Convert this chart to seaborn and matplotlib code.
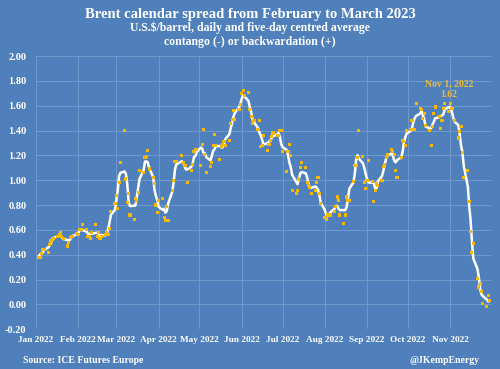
import pandas as pd
import numpy as np
import matplotlib
matplotlib.use('Agg')
import matplotlib.pyplot as plt
import seaborn as sns

# daily Brent Feb23/Mar23 spread, one list per month
jan = [0.38, 0.38, 0.41, 0.44, 0.44, 0.42, 0.48, 0.51, 0.53, 0.53, 0.55, 0.56, 0.58, 0.55, 0.53,
       0.47, 0.50, 0.54, 0.545, 0.545, 0.57]
feb = [0.56, 0.60, 0.60, 0.64, 0.60, 0.55, 0.545, 0.53, 0.58, 0.64, 0.55, 0.58, 0.53, 0.545,
       0.56, 0.58, 0.56, 0.61, 0.745, 0.81]
mar = [0.88, 0.77, 0.98, 1.14, 1.40, 1.01, 0.82, 0.89, 0.72, 0.68, 0.85, 0.83, 0.90, 1.08, 1.06,
       1.18, 1.19, 1.24, 1.09, 1.02, 0.97, 0.80, 0.74]
apr = [0.84, 0.85, 0.70, 0.675, 0.79, 0.675, 0.92, 1.00, 1.15, 1.15, 1.20, 1.14, 1.12, 1.12,
       0.98, 1.08, 1.13, 1.23, 1.25, 1.245]
may = [1.12, 1.29, 1.41, 1.21, 1.06, 1.11, 1.14, 1.28, 1.37, 1.28, 1.17, 1.27, 1.29, 1.31, 1.28,
       1.32, 1.46, 1.49, 1.56, 1.49, 1.57, 1.61]
jun = [1.70, 1.72, 1.68, 1.71, 1.57, 1.51, 1.46, 1.48, 1.41, 1.48, 1.27, 1.28, 1.36, 1.24, 1.29,
       1.32, 1.35, 1.38, 1.36, 1.36, 1.40, 1.40]
jul = [1.23, 1.07, 1.23, 1.29, 1.20, 0.92, 0.89, 0.92, 1.01, 1.10, 1.14, 1.10, 0.98, 0.96, 0.94,
       0.89, 0.92, 0.98, 1.02, 0.89, 0.81]
aug = [0.70, 0.68, 0.72, 0.72, 0.72, 0.75, 0.79, 0.865, 0.84, 0.72, 0.65, 0.72, 0.865, 0.84,
       0.84, 0.99, 1.12, 1.12, 1.18, 1.40, 1.19, 0.98, 0.93]
sep = [1.00, 1.16, 0.99, 0.83, 0.92, 0.97, 0.96, 1.00, 1.11, 1.13, 1.18, 1.21, 1.245, 1.23,
       1.21, 1.08, 1.02, 1.18, 1.32, 1.31, 1.28, 1.40]
oct = [1.41, 1.48, 1.41, 1.41, 1.62, 1.58, 1.57, 1.50, 1.54, 1.44, 1.40, 1.28, 1.43, 1.54, 1.59,
       1.51, 1.42, 1.48, 1.58, 1.62, 1.55]
nov = [1.62, 1.58, 1.58, 1.48, 1.34, 1.39, 1.43, 1.22, 1.02, 1.08, 0.83, 0.59, 0.42, 0.49, 0.21,
       0.14, 0.17, 0.10, 0.01, -0.02, 0.07, 0.03]

months = [jan, feb, mar, apr, may, jun, jul, aug, sep, oct, nov]
tick_labels = ['Jan 2022', 'Feb 2022', 'Mar 2022', 'Apr 2022', 'May 2022', 'Jun 2022',
               'Jul 2022', 'Aug 2022', 'Sep 2022', 'Oct 2022', 'Nov 2022']
y_ticks = [-0.2, 0.0, 0.2, 0.4, 0.6, 0.8, 1.0, 1.2, 1.4, 1.6, 1.8, 2.0]
peak_date = '2022-11-01'
peak_value = 1.62

dates = pd.bdate_range('2022-01-03', '2022-11-30')
dates = dates[dates != pd.Timestamp('2022-04-15')]  # Good Friday, no trading
values = sum(months, [])

df = pd.DataFrame({'date': dates, 'spread': values})
df['avg'] = df['spread'].rolling(5, center=True, min_periods=1).mean()

bg = '#4f80bc'
grid = '#7399cb'
gold = '#f7b900'

sns.set_style('dark')
plt.rcParams['font.family'] = ['Liberation Serif', 'DejaVu Serif']
plt.rcParams['font.weight'] = 'bold'

fig = plt.figure(figsize=(5, 3.69), dpi=100, facecolor=bg)
ax = fig.add_axes([0.072, 0.108, 0.91, 0.74])
ax.set_facecolor(bg)

sns.lineplot(data=df, x='date', y='avg', color='white', lw=1.8, ax=ax, zorder=2)
sns.scatterplot(data=df, x='date', y='spread', color=gold, s=5, marker='s',
                edgecolor='none', ax=ax, zorder=3)

ax.set_xlim(pd.Timestamp('2022-01-01'), pd.Timestamp('2022-12-01'))
ax.set_ylim(-0.2, 2.0)
ticks = pd.date_range('2022-01-01', '2022-11-01', freq='MS')
ax.set_xticks(ticks)
ax.set_xticklabels(tick_labels)
ax.set_xticks([pd.Timestamp('2022-12-01')], minor=True)
ax.set_yticks(y_ticks)
ax.set_yticklabels([f'{v:.2f}' for v in y_ticks])
ax.tick_params(axis='both', colors='white', labelsize=6.7, length=0)
ax.tick_params(axis='x', pad=5)
ax.tick_params(axis='y', pad=7, labelsize=7.5)
ax.grid(True, which='both', color=grid, lw=0.7)
for s in ax.spines.values():
    s.set_visible(False)
ax.set_xlabel('')
ax.set_ylabel('')

ax.text(pd.Timestamp(peak_date) - pd.Timedelta(days=1), 1.73,
        f'Nov 1, 2022\n{peak_value:.2f}', color='#e8be3c', fontsize=7,
        ha='center', va='center', linespacing=1.25)

fig.text(0.5, 0.962, 'Brent calendar spread from February to March 2023', color='white',
         fontsize=10.5, ha='center', va='center')
fig.text(0.5, 0.924, 'U.S.$/barrel, daily and five-day centred average', color='white',
         fontsize=8.5, ha='center', va='center')
fig.text(0.5, 0.886, 'contango (-) or backwardation (+)', color='white',
         fontsize=8.5, ha='center', va='center')
fig.text(0.046, 0.022, 'Source: ICE Futures Europe', color='white', fontsize=7,
         ha='left', va='center')
fig.text(0.96, 0.022, '@JKempEnergy', color='white', fontsize=7, ha='right', va='center')

fig.savefig('out.png', dpi=100, facecolor=bg)
